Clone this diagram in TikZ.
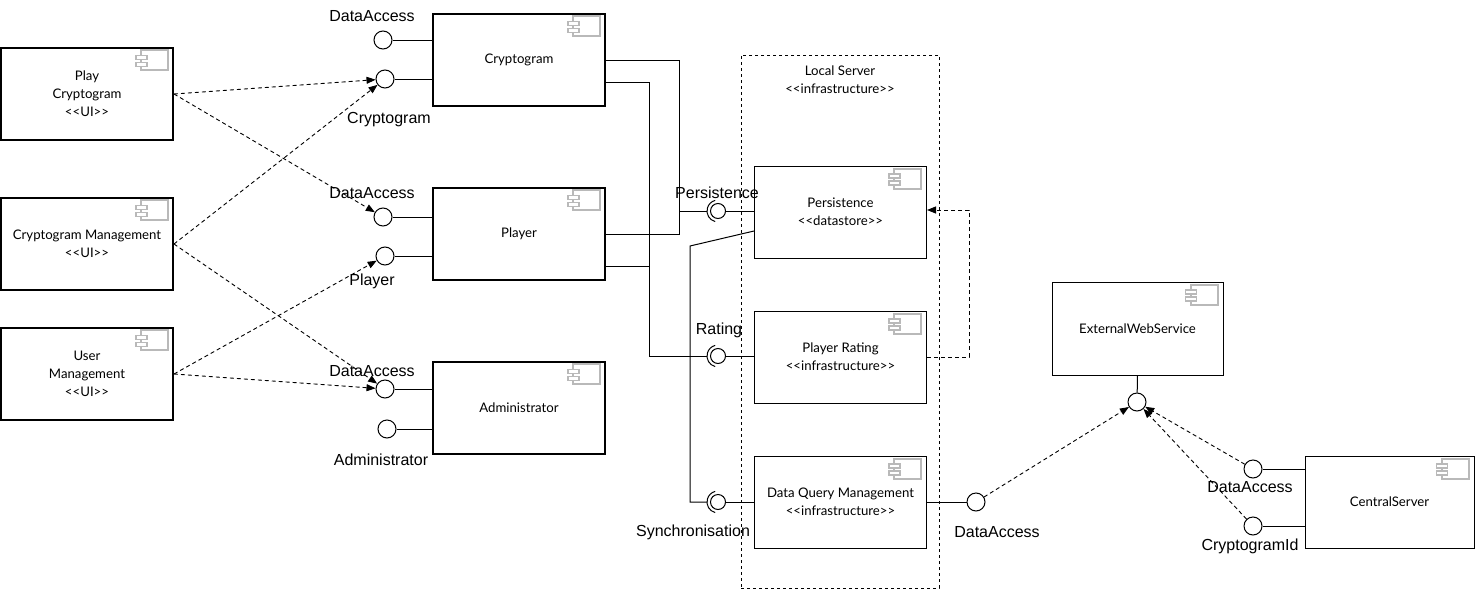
\documentclass[tikz,border=0pt]{standalone}
\usepackage{fontspec}
\setmainfont{Liberation Sans}
\newfontfamily\boxfont{Lato}
\usetikzlibrary{arrows.meta,calc}
\definecolor{icongray}{RGB}{185,185,185}
\tikzset{
  ui/.style={draw, line width=2pt, minimum width=172pt, minimum height=92pt, inner sep=0pt, align=center, font=\boxfont\fontsize{13.2}{18}\selectfont},
  thin/.style={ui, line width=1pt},
  iface/.style={draw, circle, minimum size=18pt, inner sep=0pt, line width=1pt},
  ball/.style={draw, circle, minimum size=15pt, inner sep=0pt, line width=1pt},
  lbl/.style={font=\fontsize{16}{18}\selectfont, inner sep=0pt},
  dep/.style={dash pattern=on 4pt off 3pt, -{Triangle[length=9pt,width=7pt]}, line width=0.9pt},
  wire/.style={line width=1pt},
  cicon/.pic={
    \draw[icongray, line width=2pt] (-33,3) rectangle (-6,23);
    \filldraw[icongray, line width=1.6pt, fill=white] (-38,8.5) rectangle (-27,12.5);
    \filldraw[icongray, line width=1.6pt, fill=white] (-38,15.5) rectangle (-27,19.5);
  }
}
\begin{document}
\begin{tikzpicture}[x=1pt,y=-1pt]
\useasboundingbox (0,0) rectangle (1476,592);

% UI components
\node[ui] (pc) at (87,94) {Play\\Cryptogram\\<{}<UI>{}>};
\node[ui] (cm) at (87,244) {Cryptogram Management\\<{}<UI>{}>};
\node[ui] (um) at (87,374) {User\\Management\\<{}<UI>{}>};
\pic at (pc.north east) {cicon};
\pic at (cm.north east) {cicon};
\pic at (um.north east) {cicon};

% core components
\node[ui] (cr) at (519,60) {Cryptogram};
\node[ui] (pl) at (519,234) {Player};
\node[ui] (ad) at (519,408) {Administrator};
\pic at (cr.north east) {cicon};
\pic at (pl.north east) {cicon};
\pic at (ad.north east) {cicon};

% provided interfaces
\node[iface] (c1) at (383,40) {};
\node[iface] (c2) at (385,79) {};
\node[iface] (c3) at (383,217) {};
\node[iface] (c4) at (385,256) {};
\node[iface] (c5) at (385,389) {};
\node[iface] (c6) at (387,429) {};
\foreach \c/\b in {c1/cr,c2/cr,c3/pl,c4/pl,c5/ad,c6/ad}
  \draw[wire] (\c) -- (\c -| \b.west);

\node[lbl] (l1) at (372,16) {DataAccess};
\node[lbl] (l2) at (389,120) {Cryptogram};
\node[lbl] (l3) at (372,193) {DataAccess};
\node[lbl] (l4) at (372,281) {Player};
\node[lbl] (l5) at (372,371) {DataAccess};
\node[lbl] (l6) at (381,460) {Administrator};

% dependencies from UI
\draw[dep] (pc.east) -- (c2);
\draw[dep] (pc.east) -- (c3);
\draw[dep] (cm.east) -- (c2);
\draw[dep] (cm.east) -- (c5);
\draw[dep] (um.east) -- (c4);
\draw[dep] (um.east) -- (c5);

% local server
\node[draw, dashed, line width=0.9pt, minimum width=198pt, minimum height=533pt, inner sep=0pt] (ls) at (840,321.5) {};
\node[font=\boxfont\fontsize{13.2}{18}\selectfont, align=center, inner sep=0pt] (lst) at (840,80) {Local Server\\<{}<infrastructure>{}>};

\node[thin] (ps) at (840.5,212) {Persistence\\<{}<datastore>{}>};
\node[thin] (pr) at (840.5,357) {Player Rating\\<{}<infrastructure>{}>};
\node[thin] (dq) at (840.5,502) {Data Query Management\\<{}<infrastructure>{}>};
\pic at (ps.north east) {cicon};
\pic at (pr.north east) {cicon};
\pic at (dq.north east) {cicon};

% ball and socket
\foreach \s/\y/\b in {s1/211/ps, s2/356/pr, s3/502/dq}{
  \node[ball] (\s) at (718,\y) {};
  \coordinate (\s l) at (707,\y);
  \draw[wire] (\s) -- (\s -| \b.west);
  \draw[wire] ($(\s)+(105:11)$) arc[start angle=105, end angle=255, radius=11];
}
\node[lbl] (lp) at (717,193) {Persistence};
\node[lbl] (lr) at (719,330) {Rating};
\node[lbl] (lsy) at (693,532) {Synchronisation};

% wires to sockets
\coordinate (j1) at (679,60);
\draw[wire] (cr.east) -- (j1) |- (pl.east);
\draw[wire] (s1l) -- (s1l -| j1);
\coordinate (j2) at (649,82);
\coordinate (p1) at ($(cr.east)+(0,22)$);
\coordinate (p2) at ($(pl.east)+(0,32)$);
\draw[wire] (p1) -- (j2) |- (s2l);
\draw[wire] (p2) -- (p2 -| j2);
\coordinate (j3) at (690,246);
\draw[wire] ($(ps.west)+(0,19)$) -- (j3) |- (s3l);

% rating -> persistence
\draw[dep] (pr.east) -- ++(42,0) |- ($(ps.east)+(0,-2)$);

% external
\node[iface] (q1) at (976,502) {};
\draw[wire] (dq.east) -- (q1);
\node[lbl] (lq) at (997,532) {DataAccess};

\node[thin, minimum width=171pt, minimum height=93pt] (ews) at (1137.5,328.5) {ExternalWebService};
\pic at (ews.north east) {cicon};
\node[iface] (e1) at (1137,402) {};
\draw[wire] (ews.south) -- (e1);

\node[thin, minimum width=169pt] (cs) at (1389.5,502) {CentralServer};
\pic at (cs.north east) {cicon};
\node[iface] (d1) at (1253,469) {};
\node[iface] (d2) at (1253,526) {};
\draw[wire] (d1) -- (d1 -| cs.west);
\draw[wire] (d2) -- (d2 -| cs.west);
\node[lbl] (ld1) at (1250,487) {DataAccess};
\node[lbl] (ld2) at (1250,546) {CryptogramId};

\draw[dep] (q1) -- (e1);
\draw[dep] (d1) -- (e1);
\draw[dep] (d2) -- (e1);
\end{tikzpicture}
\end{document}
